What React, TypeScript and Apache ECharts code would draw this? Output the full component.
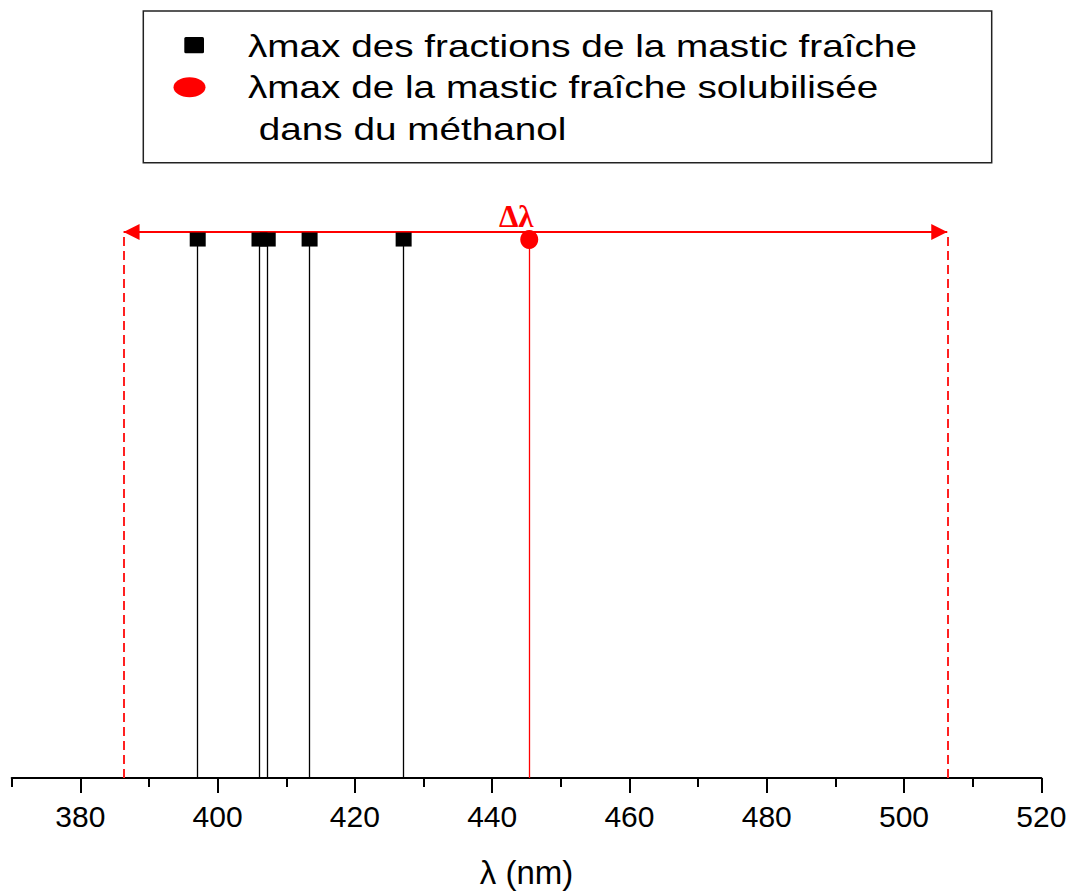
import React, { useEffect, useRef } from "react";
import * as echarts from "echarts";

// λmax values (nm)
const fractionLambda = [397.1, 406.1, 407.3, 413.4, 427.1];
const methanolLambda = [445.4];
const deltaRange = [386.3, 506.3];
const deltaLabelX = 443.5;
const majorTicks = [380, 400, 420, 440, 460, 480, 500, 520];
const minorTicks = [370, 390, 410, 430, 450, 470, 490, 510];
const xMin = 370;
const xMax = 520;
const peakLevel = 1;
const arrowLevel = 1.014;
const legendLines = [
  "λmax des fractions de la mastic fraîche",
  "λmax de la mastic fraîche solubilisée",
  " dans du méthanol",
];
const axisTitle = "λ (nm)";
const deltaLabel = "Δλ";

export default function App() {
  const ref = useRef<HTMLDivElement>(null);
  useEffect(() => {
    if (!ref.current) return;
    const chart = echarts.init(ref.current, null, { renderer: "svg" });
    const sans = "'Liberation Sans', Arial, sans-serif";
    const legendTextStyle = (t: string) => ({
      text: t,
      fill: "#000",
      font: `32px ${sans}`,
      textAlign: "left",
      textVerticalAlign: "middle",
    });
    chart.setOption({
      animation: false,
      backgroundColor: "#fff",
      grid: { left: 11.7, right: 30.7, top: 185.7, bottom: 111 },
      xAxis: [
        {
          type: "value",
          min: xMin,
          max: xMax,
          position: "bottom",
          axisLine: { lineStyle: { color: "#000", width: 2 } },
          axisTick: { customValues: majorTicks, length: 15, lineStyle: { color: "#000", width: 2 } },
          axisLabel: { customValues: majorTicks, fontSize: 30, color: "#000", fontFamily: sans, margin: 23 },
          splitLine: { show: false },
          name: axisTitle,
          nameLocation: "middle",
          nameGap: 78,
          nameTextStyle: { fontSize: 33, color: "#000", fontFamily: sans },
        },
        {
          type: "value",
          min: xMin,
          max: xMax,
          position: "bottom",
          axisLine: { show: false },
          axisTick: { customValues: minorTicks, length: 9, lineStyle: { color: "#000", width: 2 } },
          axisLabel: { show: false },
          splitLine: { show: false },
        },
      ],
      yAxis: { type: "value", min: 0, max: 1.1, show: false },
      series: [
        {
          type: "line",
          data: [],
          markLine: {
            silent: true,
            symbol: ["none", "none"],
            label: { show: false },
            lineStyle: { color: "#ff2020", width: 2, type: [9, 5], opacity: 1 },
            data: deltaRange.map((x) => [{ coord: [x, 0] }, { coord: [x, arrowLevel] }]),
          },
        },
        {
          type: "line",
          data: [],
          markLine: {
            silent: true,
            symbol: ["triangle", "triangle"],
            symbolSize: [16, 16],
            symbolOffset: [[0, 8], [0, 8]],
            label: { show: false },
            lineStyle: { color: "#ff0000", width: 2, type: "solid", opacity: 1 },
            data: [[{ coord: [deltaRange[0], arrowLevel] }, { coord: [deltaRange[1], arrowLevel] }]],
          },
          markPoint: {
            silent: true,
            symbol: "circle",
            symbolSize: 0,
            data: [
              {
                coord: [deltaLabelX, arrowLevel],
                label: {
                  show: true,
                  formatter: deltaLabel,
                  position: "top",
                  distance: 0,
                  color: "#ff0000",
                  fontFamily: "'Liberation Serif', 'Times New Roman', serif",
                  fontWeight: "bold",
                  fontSize: 31,
                },
              },
            ],
          },
        },
        {
          type: "scatter",
          name: legendLines[0],
          data: fractionLambda.map((x) => [x, peakLevel]),
          symbol: "rect",
          symbolSize: [16, 14],
          itemStyle: { color: "#000", opacity: 1 },
          clip: false,
          z: 5,
          markLine: {
            silent: true,
            symbol: ["none", "none"],
            label: { show: false },
            lineStyle: { color: "#000", width: 1.3, type: "solid", opacity: 1 },
            data: fractionLambda.map((x) => [{ coord: [x, 0] }, { coord: [x, peakLevel] }]),
          },
        },
        {
          type: "scatter",
          name: legendLines[1],
          data: methanolLambda.map((x) => [x, peakLevel]),
          symbol: "circle",
          symbolSize: [18, 19],
          itemStyle: { color: "#ff0000", opacity: 1 },
          clip: false,
          z: 5,
          markLine: {
            silent: true,
            symbol: ["none", "none"],
            label: { show: false },
            lineStyle: { color: "#ff0000", width: 1.3, type: "solid", opacity: 1 },
            data: methanolLambda.map((x) => [{ coord: [x, 0] }, { coord: [x, peakLevel] }]),
          },
        },
      ],
      graphic: [
        {
          type: "rect",
          shape: { x: 143.3, y: 11, width: 848.4, height: 151.7 },
          style: { fill: "#fff", stroke: "#222", lineWidth: 1.5 },
        },
        {
          type: "rect",
          shape: { x: 184.3, y: 37, width: 19.7, height: 16.3, r: 1.5 },
          style: { fill: "#000" },
        },
        {
          type: "ellipse",
          shape: { cx: 189.5, cy: 87.3, rx: 16, ry: 10 },
          style: { fill: "#ff0000" },
        },
        { type: "text", x: 248, y: 46, scaleX: 1.21, style: legendTextStyle(legendLines[0]) },
        { type: "text", x: 248, y: 87.5, scaleX: 1.21, style: legendTextStyle(legendLines[1]) },
        { type: "text", x: 248, y: 129.5, scaleX: 1.21, style: legendTextStyle(legendLines[2]) },
      ],
    });
    return () => chart.dispose();
  }, []);
  return (
    <div
      ref={ref}
      style={{ position: "absolute", left: 0, top: 0, width: 1072, height: 894 }}
    />
  );
}
